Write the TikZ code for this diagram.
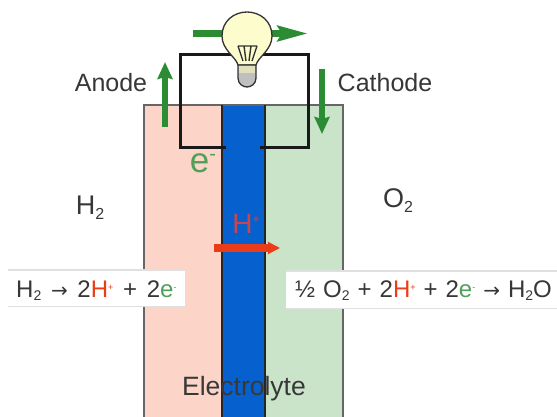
\documentclass[tikz,border=0pt]{standalone}
\usepackage{fontspec}
\setmainfont{Liberation Sans}
\usetikzlibrary{arrows.meta}
\definecolor{pinkc}{RGB}{252,212,200}
\definecolor{greenc}{RGB}{202,228,202}
\definecolor{bluec}{RGB}{6,96,205}
\definecolor{arrowg}{RGB}{44,140,52}
\definecolor{egreen}{RGB}{80,160,90}
\definecolor{redh}{RGB}{235,60,25}
\definecolor{hblue}{RGB}{200,70,80}
\definecolor{txt}{RGB}{55,55,55}
\definecolor{bulbc}{RGB}{252,252,205}
\newcommand{\eqsub}{\raisebox{-3.5pt}{\fontsize{14}{14}\selectfont 2}}
\newcommand{\eqarrow}{{\fontspec{DejaVu Sans}\fontsize{20}{20}\selectfont →}}
\newcommand{\eqhp}{\textcolor{redh}{H}\raisebox{7pt}{\fontsize{9}{9}\selectfont\textcolor{redh}{+}}}
\newcommand{\eqem}{\textcolor{egreen}{e}\raisebox{7pt}{\fontsize{9}{9}\selectfont\textcolor{egreen}{-}}}
\tikzset{
  lbl/.style={text=txt,font=\fontsize{25}{27}\selectfont,inner sep=0pt},
  gas/.style={text=txt,font=\fontsize{27}{29}\selectfont,inner sep=0pt},
  eqn/.style={text=txt,font=\fontsize{24}{26}\selectfont,inner sep=0pt,anchor=base west},
  wire/.style={draw=black!90,line width=3pt,line join=miter},
  flow/.style={draw=arrowg,line width=6.5pt,-{Stealth[length=17pt,width=15pt,inset=2pt]}},
  flowlong/.style={draw=arrowg,line width=6.5pt,-{Stealth[length=30pt,width=15pt,inset=4pt]}},
  band/.style={fill=white,draw=none},
  region/.style={draw=black!60,line width=1.2pt},
}
\begin{document}
\begin{tikzpicture}[x=1pt,y=-1pt]
\useasboundingbox (0,0) rectangle (557,417);
% regions
\fill[pinkc] (144,105) rectangle (222,417);
\fill[greenc] (265,105) rectangle (343,417);
\fill[bluec] (222,105) rectangle (265,417);
\draw[region] (144,417) -- (144,105) -- (343,105) -- (343,417);
\draw[black!85,line width=1.2pt] (222,105) -- (222,417) (265,105) -- (265,417);
% reaction bands
\fill[black!12] (8,269) rectangle (185,307);
\fill[black!12] (286,270) rectangle (557,309);
\fill[band] (8,270.5) rectangle (185,305.5);
\fill[band] (286,271.5) rectangle (557,307.5);
% wiring
\coordinate (wa) at (226,148);
\coordinate (wb) at (180,148);
\coordinate (wc) at (180,55);
\coordinate (wd) at (308,55);
\coordinate (we) at (308,148);
\coordinate (wf) at (260,148);
\draw[wire] (wa) -- (wb) -- (wc) -- (wd) -- (we) -- (wf);
% flow arrows
\coordinate (t1) at (193,33.5); \coordinate (t2) at (308,33.5);
\coordinate (l1) at (165,127); \coordinate (l2) at (165,62);
\coordinate (r1) at (322,69); \coordinate (r2) at (322,134);
\draw[flowlong] (t1) -- (t2);
\draw[flow] (l1) -- (l2);
\draw[flow] (r1) -- (r2);
% bulb
\draw[black!80,line width=1.3pt,fill=bulbc] (238,65)
  .. controls (236,57) and (222,50) .. (222,36)
  .. controls (222,21) and (234,12) .. (247,12)
  .. controls (260,12) and (272,21) .. (272,36)
  .. controls (272,50) and (258,57) .. (256,65) -- cycle;
\draw[black!80,line width=1.3pt,fill=black!25] (238,65) -- (256,65) -- (256,78)
  .. controls (256,84) and (251,87) .. (247,87)
  .. controls (243,87) and (238,84) .. (238,78) -- cycle;
\fill[yellow!55!black!30] (239,66) rectangle (255,73);
\draw[black!80,line width=1.4pt] (238,46) -- (257,46) (238,46) -- (243,61) (257,46) -- (252,61) (244,46) -- (246,61) (251,46) -- (249,61);
\node[lbl] (anode) at (111,83) {Anode};
\node[lbl] (cathode) at (385,83) {Cathode};
\node[text=egreen,font=\fontsize{35}{37}\selectfont,inner sep=0pt] (eminus) at (203,163) {e\raisebox{12pt}{\fontsize{20}{20}\selectfont -}};
\node[gas] (h2) at (90,208) {H\raisebox{-5pt}{\fontsize{16}{16}\selectfont 2}};
\node[gas] (o2) at (398,201) {O\raisebox{-5pt}{\fontsize{16}{16}\selectfont 2}};
\node[text=hblue,font=\fontsize{28}{30}\selectfont,inner sep=0pt] (hplus) at (246,224) {H\raisebox{10pt}{\fontsize{12}{12}\selectfont +}};
\coordinate (h1) at (214,248); \coordinate (h2e) at (280,248);
\draw[draw=redh,line width=7.5pt,-{Stealth[length=12pt,width=12pt,inset=1pt]}] (h1) -- (h2e);
\node[eqn] (eq1) at (16,297) {H\eqsub\hspace{9.7pt}\eqarrow\hspace{9.7pt}2\eqhp\hspace{9.7pt}+\hspace{9.7pt}2\eqem};
\node[eqn] (eq2) at (295,297) {½\hspace{8pt}O\eqsub\hspace{8pt}+\hspace{8pt}2\eqhp\hspace{8pt}+\hspace{8pt}2\eqem\hspace{8pt}\eqarrow\hspace{8pt}H\eqsub O};
\node[text=black!78,font=\fontsize{26.5}{28}\selectfont,inner sep=0pt] (elec) at (244,389) {Electrolyte};
\end{tikzpicture}
\end{document}
